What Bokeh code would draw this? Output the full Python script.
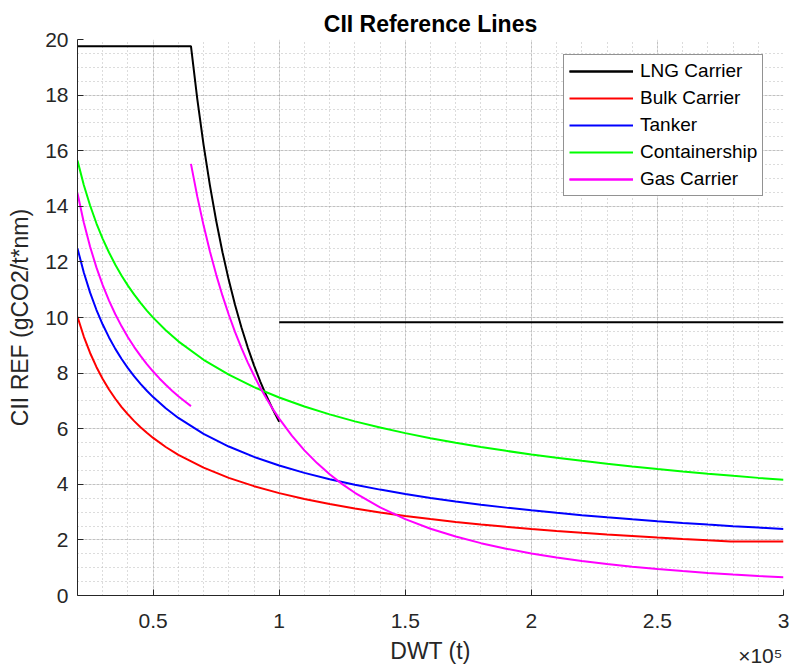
from bokeh.plotting import figure
from bokeh.models import (Range1d, SingleIntervalTicker, Legend, LegendItem, Title)
from bokeh.embed import file_html
from bokeh.resources import INLINE

# ---------------- data ----------------
TITLE = "CII Reference Lines"
X_LABEL = "DWT (t)"
Y_LABEL = "CII REF (gCO2/t*nm)"
X_EXPONENT = "×10⁵"

x_tick_values = [50000, 100000, 150000, 200000, 250000, 300000]
x_tick_labels = ["0.5", "1", "1.5", "2", "2.5", "3"]

series_names = ["LNG Carrier", "Bulk Carrier", "Tanker", "Containership", "Gas Carrier"]

common_x = [20000, 22500, 25000, 27500, 30000, 32500, 35000, 37500, 40000, 42500,
            45000, 47500, 50000, 55000, 60000,
            70000, 80000, 90000, 100000, 110000, 120000, 130000, 140000, 150000,
            160000, 170000, 180000, 190000, 200000, 210000, 220000, 230000, 240000,
            250000, 260000, 270000, 280000, 290000, 300000]

lng_x_a = [20000, 65000, 67500, 70000, 72500, 75000, 77500, 80000, 82500,
           85000, 87500, 90000, 92500, 95000, 97500, 100000]
lng_y_a = [19.761, 19.761, 17.865, 16.210, 14.759, 13.479, 12.349, 11.345, 10.448,
           9.647, 8.928, 8.280, 7.696, 7.166, 6.685, 6.248]
lng_x_b = [100000, 300000]
lng_y_b = [9.827, 9.827]

bulk_x = [20000, 22500, 25000, 27500, 30000, 32500, 35000, 37500, 40000, 42500,
          45000, 47500, 50000, 55000, 60000,
          70000, 80000, 90000, 100000, 110000, 120000, 130000, 140000, 150000,
          160000, 170000, 180000, 190000, 200000, 210000, 220000, 230000, 240000,
          250000, 260000, 270000, 279000, 300000]
bulk_y = [10.023, 9.315, 8.724, 8.222, 7.789, 7.410, 7.077, 6.779, 6.513, 6.272,
          6.053, 5.852, 5.668, 5.342, 5.061,
          4.598, 4.232, 3.933, 3.683, 3.471, 3.288, 3.129, 2.988, 2.862,
          2.750, 2.648, 2.555, 2.471, 2.393, 2.322, 2.255, 2.194, 2.137,
          2.083, 2.033, 1.986, 1.946, 1.946]

tanker_y = [12.482, 11.617, 10.894, 10.278, 9.747, 9.283, 8.872, 8.507, 8.178, 7.881,
            7.611, 7.364, 7.137, 6.734, 6.386,
            5.813, 5.358, 4.987, 4.676, 4.412, 4.184, 3.985, 3.809, 3.652,
            3.511, 3.383, 3.267, 3.161, 3.064, 2.974, 2.891, 2.814, 2.742,
            2.674, 2.611, 2.551, 2.495, 2.443, 2.393]

container_y = [15.645, 14.769, 14.028, 13.389, 12.831, 12.339, 11.899, 11.505, 11.147, 10.822,
               10.523, 10.249, 9.995, 9.540, 9.142,
               8.479, 7.943, 7.498, 7.122, 6.797, 6.514, 6.264, 6.041, 5.841,
               5.659, 5.494, 5.343, 5.203, 5.074, 4.955, 4.843, 4.739, 4.641,
               4.550, 4.463, 4.382, 4.304, 4.231, 4.162]

gas_x_a = [20000, 22500, 25000, 27500, 30000, 32500, 35000, 37500, 40000, 42500,
           45000, 47500, 50000, 52500, 55000, 57500, 60000, 62500, 65000]
gas_y_a = [14.467, 13.418, 12.545, 11.803, 11.165, 10.608, 10.118, 9.681, 9.290, 8.937,
           8.617, 8.324, 8.056, 7.808, 7.580, 7.367, 7.170, 6.985, 6.812]
gas_x_b = [65000, 67500, 70000, 72500, 75000, 77500, 80000, 82500, 85000, 87500,
           90000, 92500, 95000, 97500, 100000, 105000, 110000, 115000, 120000,
           125000, 130000, 140000, 150000, 160000, 170000, 180000, 190000,
           200000, 210000, 220000, 230000, 240000, 250000, 260000, 270000,
           280000, 290000, 300000]
gas_y_b = [15.524, 14.357, 13.315, 12.382, 11.543, 10.785, 10.099, 9.474, 8.906, 8.388,
           7.913, 7.476, 7.074, 6.704, 6.361, 5.750, 5.222, 4.763, 4.361,
           4.007, 3.695, 3.169, 2.747, 2.403, 2.120, 1.883, 1.684,
           1.514, 1.368, 1.243, 1.133, 1.038, 0.954, 0.879, 0.813,
           0.754, 0.702, 0.654]

# ---------------- styling ----------------
FONT = "Liberation Sans"
AX = "#262626"
COLORS = ["#000000", "#ff0000", "#0000ff", "#00ff00", "#ff00ff"]

p = figure(width=792, height=666, output_backend="svg", toolbar_location=None,
           x_range=Range1d(20000, 300000), y_range=Range1d(0, 20),
           min_border_left=77, min_border_right=9, min_border_top=39, min_border_bottom=71,
           title=TITLE)
p.outline_line_color = None
p.background_fill_color = "white"
p.border_fill_color = "white"

p.title.text_font = FONT
p.title.text_font_size = "23px"
p.title.text_font_style = "bold"
p.title.text_color = "#000000"
p.title.align = "center"
p.title.standoff = 6

xt = SingleIntervalTicker(interval=50000, num_minor_ticks=5)
yt = SingleIntervalTicker(interval=2, num_minor_ticks=4)
p.xaxis.ticker = xt
p.xgrid.ticker = xt
p.yaxis.ticker = yt
p.ygrid.ticker = yt
p.xaxis.major_label_overrides = {v: s for v, s in zip(x_tick_values, x_tick_labels)}

for ax in (p.xaxis, p.yaxis):
    ax.axis_line_color = AX
    ax.axis_line_width = 1
    ax.major_tick_line_color = AX
    ax.major_tick_in = 6
    ax.major_tick_out = 0
    ax.minor_tick_in = 0
    ax.minor_tick_out = 0
    ax.major_label_text_font = FONT
    ax.major_label_text_font_size = "21px"
    ax.major_label_text_color = AX
    ax.axis_label_text_font = FONT
    ax.axis_label_text_font_size = "23px"
    ax.axis_label_text_font_style = "normal"
    ax.axis_label_text_color = AX

p.xaxis.axis_label = X_LABEL
p.yaxis.axis_label = Y_LABEL
p.xaxis.major_label_standoff = 18
p.xaxis.axis_label_standoff = 7
p.yaxis.major_label_standoff = 9
p.yaxis.axis_label_standoff = 9

# exponent of the x axis, right-aligned under the right end of the axis
exp_title = Title(text=X_EXPONENT, align="right", vertical_align="top",
                  standoff=-46, offset=1,
                  text_font=FONT, text_font_size="21px", text_font_style="normal",
                  text_color=AX)
p.add_layout(exp_title, "below")

for g in (p.xgrid, p.ygrid):
    g.grid_line_color = AX
    g.grid_line_alpha = 0.15
    g.grid_line_width = 1
    g.minor_grid_line_color = "#b8b8b8"
    g.minor_grid_line_alpha = 1.0
    g.minor_grid_line_dash = "1 3"
    g.minor_grid_line_width = 1

LW = 2
r_lng_a = p.line(lng_x_a, lng_y_a, line_color=COLORS[0], line_width=LW)
r_lng_b = p.line(lng_x_b, lng_y_b, line_color=COLORS[0], line_width=LW)
r_bulk = p.line(bulk_x, bulk_y, line_color=COLORS[1], line_width=LW)
r_tank = p.line(common_x, tanker_y, line_color=COLORS[2], line_width=LW)
r_cont = p.line(common_x, container_y, line_color=COLORS[3], line_width=LW)
r_gas_a = p.line(gas_x_a, gas_y_a, line_color=COLORS[4], line_width=LW)
r_gas_b = p.line(gas_x_b, gas_y_b, line_color=COLORS[4], line_width=LW)

legend = Legend(items=[
    LegendItem(label=series_names[0], renderers=[r_lng_a, r_lng_b]),
    LegendItem(label=series_names[1], renderers=[r_bulk]),
    LegendItem(label=series_names[2], renderers=[r_tank]),
    LegendItem(label=series_names[3], renderers=[r_cont]),
    LegendItem(label=series_names[4], renderers=[r_gas_a, r_gas_b]),
], location=(486, 399))
legend.margin = 0
legend.padding = 5
legend.spacing = 5
legend.glyph_width = 64
legend.glyph_height = 22
legend.label_height = 22
legend.label_standoff = 7
legend.label_text_font = FONT
legend.label_text_font_size = "19px"
legend.label_text_color = "#000000"
legend.border_line_color = AX
legend.border_line_width = 1
legend.background_fill_color = "white"
legend.background_fill_alpha = 1.0
p.add_layout(legend)

open("out.html", "w").write(file_html(p, INLINE))
